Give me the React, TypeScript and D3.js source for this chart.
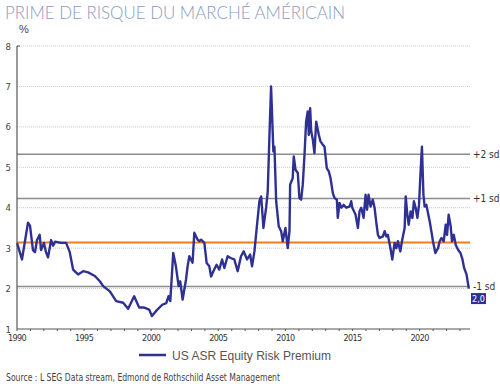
import React from "react";
import * as d3 from "d3";

// US ASR equity risk premium (decimal year, %)
const years = [
  1990.0, 1990.37, 1990.82, 1990.97, 1991.19, 1991.34, 1991.49, 1991.69, 1991.79,
  1992.01, 1992.16, 1992.31, 1992.54, 1992.69, 1992.84, 1993.28, 1993.66, 1993.93,
  1994.18, 1994.55, 1994.93, 1995.3, 1995.8, 1996.17, 1996.42, 1996.92, 1997.39,
  1997.91, 1998.28, 1998.73, 1999.1, 1999.48, 1999.85, 2000.05, 2000.35, 2000.82,
  2001.12, 2001.29, 2001.42, 2001.64, 2001.84, 2002.04, 2002.16, 2002.34, 2002.59,
  2002.71, 2002.84, 2003.08, 2003.21, 2003.46, 2003.58, 2003.71, 2003.96, 2004.13,
  2004.33, 2004.46, 2004.63, 2004.87, 2005.07, 2005.28, 2005.45, 2005.69, 2005.95,
  2006.19, 2006.44, 2006.69, 2006.89, 2007.14, 2007.37, 2007.51, 2007.69, 2007.86,
  2008.06, 2008.19, 2008.36, 2008.56, 2008.68, 2008.81, 2008.93, 2009.1, 2009.18,
  2009.31, 2009.5, 2009.68, 2009.8, 2010.0, 2010.17, 2010.3, 2010.35, 2010.54,
  2010.62, 2010.75, 2010.92, 2011.04, 2011.17, 2011.29, 2011.42, 2011.54, 2011.66,
  2011.74, 2011.84, 2011.92, 2012.04, 2012.16, 2012.29, 2012.49, 2012.61, 2012.78,
  2012.91, 2013.08, 2013.23, 2013.36, 2013.53, 2013.66, 2013.83, 2013.9, 2014.03,
  2014.16, 2014.33, 2014.53, 2014.78, 2014.9, 2014.98, 2015.22, 2015.4, 2015.52,
  2015.65, 2015.82, 2015.97, 2016.08, 2016.19, 2016.34, 2016.51, 2016.64, 2016.77,
  2016.89, 2017.01, 2017.26, 2017.39, 2017.51, 2017.63, 2017.84, 2017.96, 2018.13,
  2018.26, 2018.38, 2018.56, 2018.68, 2018.88, 2018.96, 2019.08, 2019.18, 2019.33,
  2019.46, 2019.57, 2019.7, 2019.83, 2019.95, 2020.07, 2020.17, 2020.28, 2020.37,
  2020.5, 2020.62, 2020.75, 2020.87, 2020.99, 2021.17, 2021.37, 2021.49, 2021.62,
  2021.79, 2021.94, 2022.04, 2022.16, 2022.31, 2022.41, 2022.54, 2022.69, 2022.86,
  2023.04, 2023.19, 2023.31, 2023.49, 2023.66,
];
const premium = [
  3.13, 2.72, 3.63, 3.55, 2.95, 2.9, 3.2, 3.33, 2.95,
  3.13, 2.9, 2.77, 3.2, 3.06, 3.16, 3.13, 3.13, 2.9,
  2.47, 2.35, 2.43, 2.4, 2.31, 2.18, 2.06, 1.93, 1.69,
  1.65, 1.5, 1.81, 1.53, 1.53, 1.48, 1.32, 1.44, 1.6,
  1.64, 1.81, 1.69, 2.88, 2.55, 2.06, 2.18, 1.73, 2.22,
  2.55, 2.8, 2.64, 3.38, 3.21, 3.17, 3.21, 3.13, 2.63,
  2.55, 2.3, 2.43, 2.59, 2.47, 2.72, 2.51, 2.8, 2.75,
  2.72, 2.43, 2.8, 2.92, 2.72, 2.84, 2.55, 2.92, 3.5,
  4.16, 4.28, 3.5, 4.0, 4.4, 5.8, 7.0, 5.39, 5.51,
  4.16, 3.54, 3.42, 3.17, 3.5, 3.0, 3.42, 4.57, 4.73,
  5.27, 4.94, 4.86, 4.24, 4.2, 4.57, 5.31, 6.13, 6.38,
  5.8, 6.46, 5.89, 5.68, 5.35, 6.13, 5.8, 5.64, 5.56,
  5.51, 4.98, 4.9, 4.73, 4.36, 4.24, 4.2, 3.75, 4.12,
  4.0, 4.07, 4.0, 4.03, 4.16, 4.0, 3.83, 3.5, 3.91,
  4.0, 3.75, 4.32, 3.95, 4.32, 4.03, 4.2, 4.0, 3.63,
  3.33, 3.25, 3.29, 3.42, 3.29, 3.33, 2.96, 2.72, 3.13,
  3.0, 3.17, 2.92, 3.17, 3.5, 4.28, 3.83, 3.58, 3.91,
  3.75, 4.16, 4.0, 3.75, 4.07, 4.9, 5.51, 4.32, 4.03,
  4.07, 3.87, 3.66, 3.42, 3.17, 2.88, 3.0, 3.17, 3.25,
  3.17, 3.58, 3.33, 3.83, 3.54, 3.17, 3.33, 3.08, 2.96,
  2.88, 2.72, 2.51, 2.35, 2.0,
];

const yTicks = [1, 2, 3, 4, 5, 6, 7, 8];
const xLabelYears = [1990, 1995, 2000, 2005, 2010, 2015, 2020];
const mean = 3.14;
const sdLines = [
  { label: "+2 sd", value: 5.32 },
  { label: "+1 sd", value: 4.23 },
  { label: "-1 sd", value: 2.05 },
];
const lastLabel = "2,0";

const width = 500;
const height = 390;
const marginLeft = 17;
const plotRight = 470;
const marginTop = 46;
const plotBottom = 329;

const blue = "#2e3192";
const condensed = "'Liberation Sans Narrow', 'DejaVu Sans Condensed', Arial, sans-serif";

export default function App() {
  const x = d3.scaleLinear().domain([1990, 2023.75]).range([marginLeft, plotRight]);
  const y = d3.scaleLinear().domain([1, 8]).range([plotBottom, marginTop]);

  const line = d3
    .line<number>()
    .x((d, i) => x(years[i]))
    .y((d) => y(d));

  const yearTicks = d3.range(1990, 2024);
  const lastY = y(premium[premium.length - 1]);

  return (
    <svg
      width={width}
      height={height}
      style={{ position: "absolute", left: 0, top: 0, background: "#fff" }}
    >
      <text
        x={5}
        y={19}
        fontFamily="Lato, 'Open Sans', sans-serif"
        fontWeight={300}
        fontSize={18}
        fill="#8a9bc2"
        textLength={340}
        lengthAdjust="spacingAndGlyphs"
      >
        PRIME DE RISQUE DU MARCHÉ AMÉRICAIN
      </text>
      <text x={19} y={33} fontFamily="Arial, sans-serif" fontSize={11} fill="#444">
        %
      </text>

      {/* dotted grid */}
      {yTicks.slice(1).map((t) => (
        <line
          key={"g" + t}
          x1={marginLeft}
          x2={plotRight}
          y1={y(t)}
          y2={y(t)}
          stroke="#c8c8c8"
          strokeWidth={1}
          strokeDasharray="1,1"
        />
      ))}

      {/* standard deviation lines */}
      {sdLines.map((s) => (
        <g key={s.label}>
          <line
            x1={marginLeft}
            x2={plotRight}
            y1={y(s.value)}
            y2={y(s.value)}
            stroke="#8c8c8c"
            strokeWidth={1.5}
          />
          <text
            x={plotRight + 3}
            y={y(s.value) + 3.5}
            fontFamily={condensed}
            fontSize={10}
            fill="#333"
          >
            {s.label}
          </text>
        </g>
      ))}

      <line
        x1={marginLeft}
        x2={plotRight}
        y1={y(mean)}
        y2={y(mean)}
        stroke="#f07d1e"
        strokeWidth={2}
      />

      <path d={line(premium) ?? ""} fill="none" stroke={blue} strokeWidth={2.4} strokeLinejoin="round" />

      {/* last value tag */}
      <rect x={471} y={lastY + 4.5} width={15} height={11} fill={blue} />
      <text
        x={478.5}
        y={lastY + 13.5}
        textAnchor="middle"
        fontFamily={condensed}
        fontSize={9}
        fill="#fff"
      >
        {lastLabel}
      </text>

      {/* y axis */}
      <line x1={marginLeft} x2={marginLeft} y1={marginTop} y2={plotBottom} stroke="#555" strokeWidth={1.2} />
      <line x1={marginLeft} x2={marginLeft + 3} y1={marginTop} y2={marginTop} stroke="#555" strokeWidth={1} />
      {yTicks.map((t) => (
        <text
          key={"y" + t}
          x={11}
          y={y(t) + 3.5}
          textAnchor="end"
          fontFamily={condensed}
          fontSize={9.5}
          fill="#444"
        >
          {t}
        </text>
      ))}

      {/* x axis */}
      <line x1={marginLeft} x2={plotRight} y1={plotBottom} y2={plotBottom} stroke="#555" strokeWidth={1.2} />
      {yearTicks.map((t) => (
        <line
          key={"xt" + t}
          x1={x(t)}
          x2={x(t)}
          y1={plotBottom}
          y2={plotBottom + 2}
          stroke="#555"
          strokeWidth={1}
        />
      ))}
      {xLabelYears.map((t) => (
        <text
          key={"xl" + t}
          x={x(t)}
          y={plotBottom + 12}
          textAnchor="middle"
          fontFamily={condensed}
          fontSize={9}
          letterSpacing={-0.6}
          fill="#333"
        >
          {t}
        </text>
      ))}

      {/* legend */}
      <line x1={139} x2={166} y1={355} y2={355} stroke={blue} strokeWidth={2.5} />
      <text
        x={172}
        y={360}
        fontFamily="'Liberation Sans', Arial, sans-serif"
        fontSize={13.5}
        fill="#555"
        textLength={159}
        lengthAdjust="spacingAndGlyphs"
      >
        US ASR Equity Risk Premium
      </text>

      <text
        x={6}
        y={381}
        fontFamily={condensed}
        fontSize={11}
        fill="#444"
        textLength={274}
        lengthAdjust="spacingAndGlyphs"
      >
        Source : L SEG Data stream, Edmond de Rothschild Asset Management
      </text>
    </svg>
  );
}
